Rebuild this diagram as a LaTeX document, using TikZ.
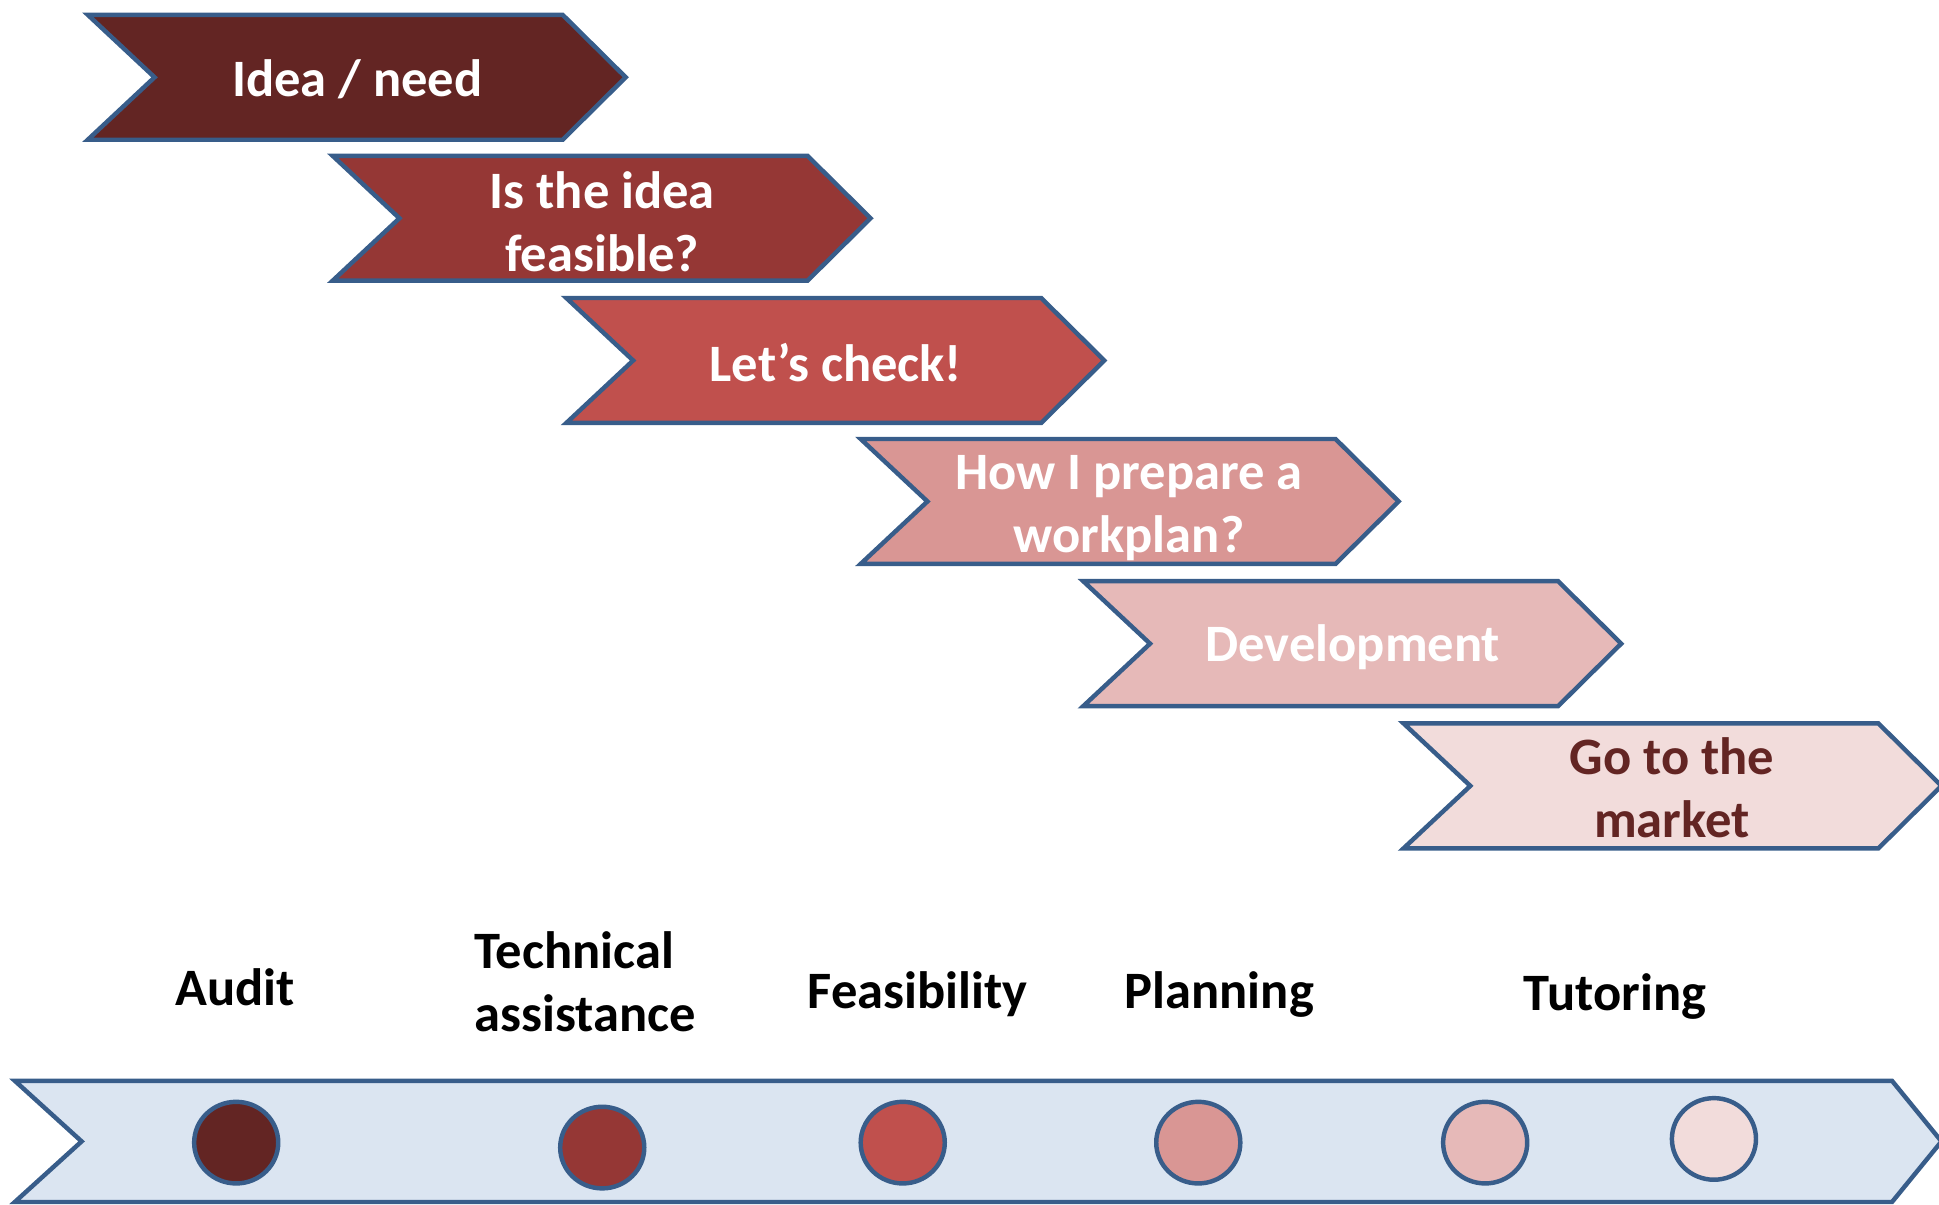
\documentclass[tikz,border=0pt]{standalone}
\usepackage{fontspec}
\setmainfont{Carlito}
\usepackage{xcolor}
\definecolor{stepA}{HTML}{632523}
\definecolor{stepB}{HTML}{953735}
\definecolor{stepC}{HTML}{C0504D}
\definecolor{stepD}{HTML}{D99694}
\definecolor{stepE}{HTML}{E6B9B8}
\definecolor{stepF}{HTML}{F2DCDB}
\definecolor{edgeblue}{HTML}{385D8A}
\definecolor{bandfill}{HTML}{DBE5F1}
\tikzset{
  chev/.style={draw=edgeblue, line width=1.8pt, line join=miter},
  steptext/.style={text=white, font=\fontsize{21.25}{25.5}\selectfont\bfseries, align=center, inner sep=0pt},
  tasktext/.style={text=black, font=\fontsize{21.25}{25.5}\selectfont\bfseries, inner sep=0pt}
}
\begin{document}
\begin{tikzpicture}[x=0.5pt,y=-0.5pt]
    \useasboundingbox (0,0) rectangle (1568,974);
    %Steps
    \foreach \x/\y/\col in {71/12/stepA, 269/126/stepB, 458/241/stepC, 696/355/stepD, 876/470/stepE, 1135/585/stepF}
        \draw[chev, fill=\col] (\x,\y) -- ++(384,0) -- ++(51,50.5) -- ++(-51,50.5) -- ++(-384,0) -- ++(54,-50.5) -- cycle;
    \node[steptext] (idea) at (289,64) {Idea / need};
    \node[steptext] (feasible) at (487,179) {Is the idea\\feasible?};
    \node[steptext] (check) at (676,293) {Let’s check!};
    \node[steptext] (workplan) at (913,411) {How I prepare a\\workplan?};
    \node[steptext] (develop) at (1094,523) {Development};
    \node[steptext, text=stepA] (market) at (1352,637) {Go to the\\market};

    %Services
    \node[tasktext] (audit) at (190,798) {Audit};
    \node[tasktext, align=left] (assist) at (473,794) {Technical\\assistance};
    \node[tasktext] (feas) at (742,804) {Feasibility};
    \node[tasktext] (plan) at (986,804) {Planning};
    \node[tasktext] (tutor) at (1306,806) {Tutoring};

    %Timeline
    \draw[chev, fill=bandfill] (12,874) -- (1530,874) -- (1570,923) -- (1530,972) -- (12,972) -- (66,923) -- cycle;
    \foreach \x/\y/\col in {191/924/stepA, 487/928/stepB, 730/924/stepC, 969/924/stepD, 1201/924/stepE, 1386/921/stepF}
        \draw[chev, fill=\col] (\x,\y) ellipse [x radius=34, y radius=33];
\end{tikzpicture}
\end{document}
